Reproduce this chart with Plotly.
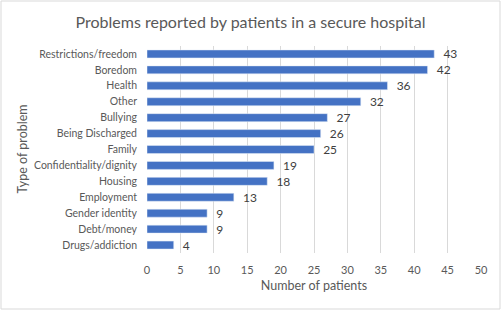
import plotly.graph_objects as go

categories = ["Restrictions/freedom", "Boredom", "Health", "Other", "Bullying",
              "Being Discharged", "Family", "Confidentiality/dignity", "Housing",
              "Employment", "Gender identity", "Debt/money", "Drugs/addiction"]
values = [43, 42, 36, 32, 27, 26, 25, 19, 18, 13, 9, 9, 4]
x_ticks = [0, 5, 10, 15, 20, 25, 30, 35, 40, 45, 50]

W, H = 501, 310
L, R, T, B = 147, 20, 46, 57
pw, ph = W - L - R, H - T - B

fig = go.Figure(go.Bar(
    y=categories, x=values, orientation="h",
    marker=dict(color="#4472C4"),
    texttemplate="  %{x}", textposition="outside",
    constraintext="none",
    textfont=dict(size=12, color="#404040"),
    cliponaxis=False,
))

font = "Lato, 'Open Sans', sans-serif"
fig.update_layout(
    width=W, height=H,
    margin=dict(l=L, r=R, t=T, b=B, autoexpand=False),
    paper_bgcolor="white", plot_bgcolor="white",
    font=dict(family=font, color="#595959", size=11),
    title=dict(text="Problems reported by patients in a secure hospital",
               x=0.5, xanchor="center", y=1 - 22 / H, yanchor="middle",
               font=dict(size=16, color="#595959")),
    bargap=0.5,
    showlegend=False,
    xaxis=dict(range=[0, 50], tickvals=x_ticks, showgrid=True, automargin=False,
               gridcolor="#D9D9D9", gridwidth=1, zeroline=False,
               showline=False, ticks="", ticklabelstandoff=9,
               tickfont=dict(size=11, color="#595959"),
               title=dict(text="Number of patients", font=dict(size=12.5, color="#595959"),
                          standoff=6)),
    yaxis=dict(categoryorder="array", categoryarray=categories[::-1], automargin=False,
               showgrid=False, zeroline=False, showline=False, ticks="",
               ticklabelstandoff=9,
               tickfont=dict(size=10.5, color="#595959")),
    annotations=[dict(text="Type of problem", textangle=-90, showarrow=False,
                      xref="paper", yref="paper", x=(22 - L) / pw, y=0.5,
                      xanchor="center", yanchor="middle",
                      font=dict(size=12.5, color="#595959"))],
    shapes=[dict(type="rect", xref="paper", yref="paper",
                 x0=-(L - 1) / pw, x1=1 + (R - 1) / pw,
                 y0=-(B - 1) / ph, y1=1 + (T - 1) / ph,
                 line=dict(color="#D9D9D9", width=1), fillcolor="rgba(0,0,0,0)",
                 layer="below")],
)

fig.write_html("out.html", config={"displayModeBar": False},
               post_script="document.body.style.margin='0';document.body.style.overflow='hidden';")
